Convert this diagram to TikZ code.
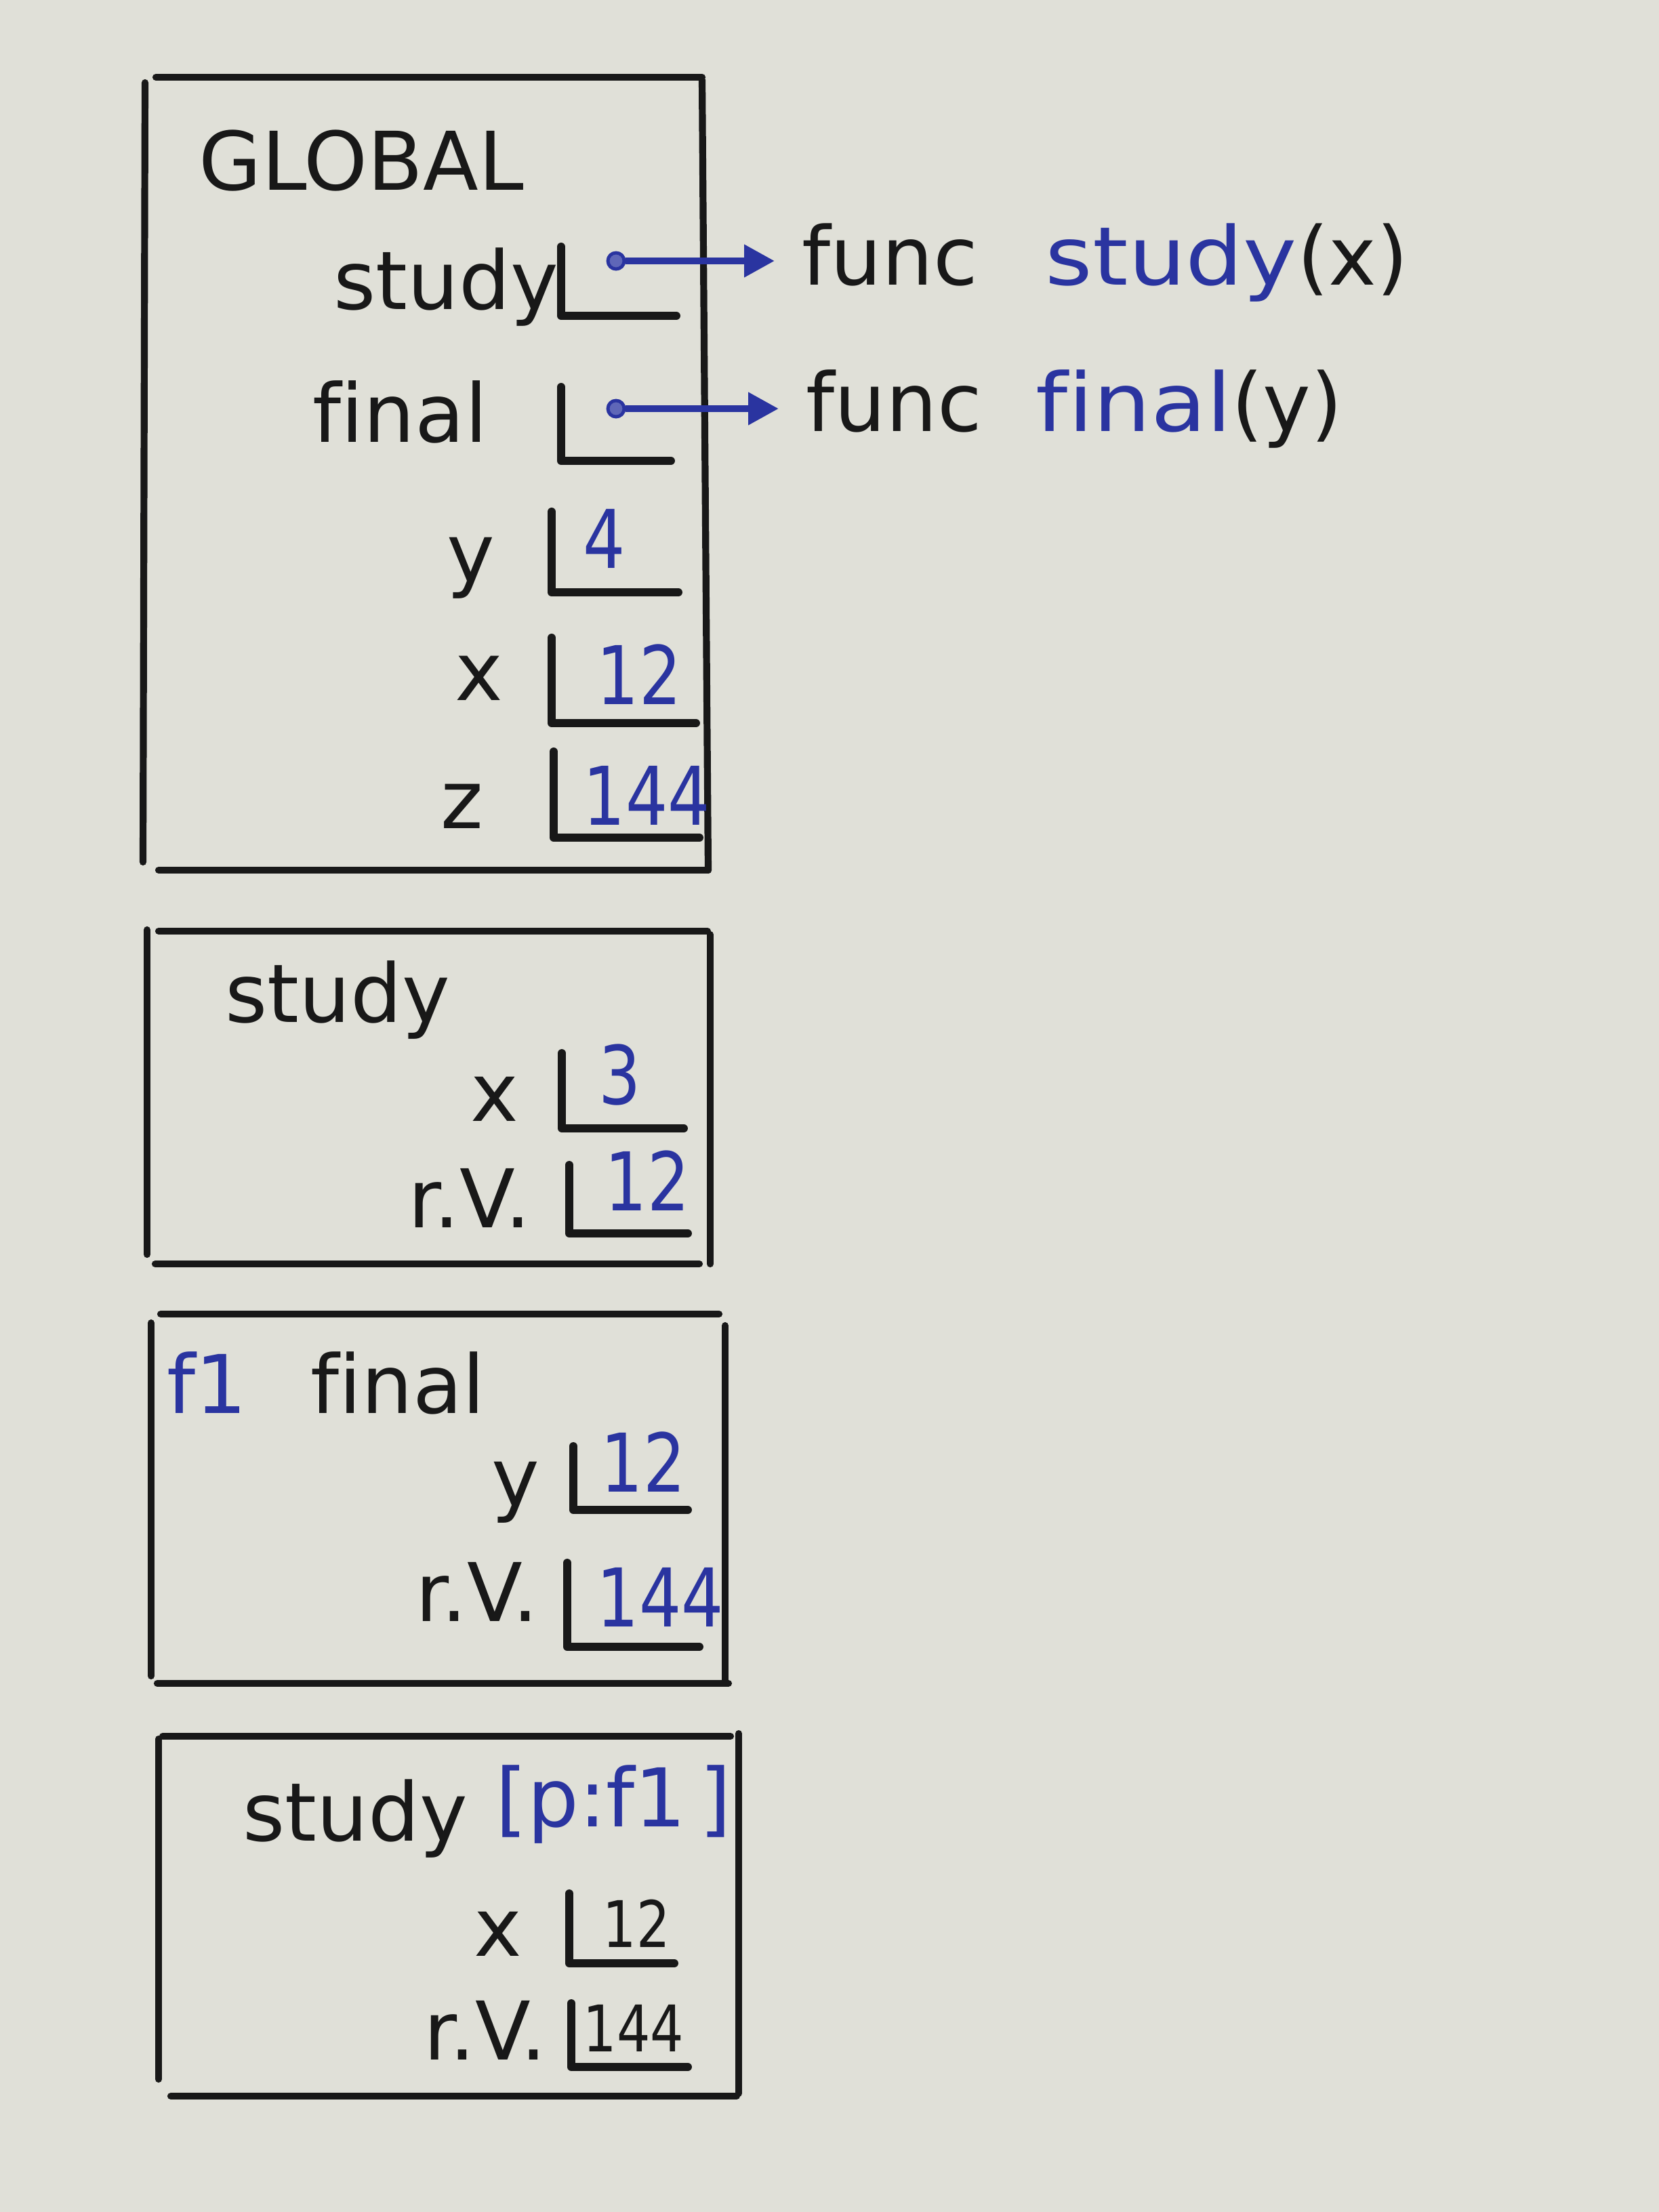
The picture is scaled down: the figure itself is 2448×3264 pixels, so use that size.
\documentclass[tikz,border=0pt]{standalone}
\usepackage{fontspec}
\usetikzlibrary{arrows.meta}
\newfontfamily\handfont[Ligatures=CommonOff]{DejaVu Sans}
\newcommand{\hand}{\handfont\fontsize{34}{40}\selectfont}
\newcommand{\handsmall}{\handfont\fontsize{27}{32}\selectfont}
\newcommand{\nar}[1]{\scalebox{0.82}[1]{#1}}
\newcommand{\wid}[1]{\scalebox{1.12}[1]{#1}}
\definecolor{paper}{RGB}{224,224,216}
\definecolor{ink}{RGB}{24,24,24}
\definecolor{pen}{RGB}{42,52,160}
\tikzset{
  frameline/.style={draw=ink, line width=2.9pt, line cap=round},
  slot/.style={draw=ink, line width=3.4pt, line cap=round, line join=round},
  lbl/.style={inner sep=0pt, anchor=base west, text=ink, font=\hand},
  num/.style={lbl, text=pen},
  knum/.style={lbl, font=\handsmall},
  ptr/.style={draw=pen, line width=3pt, shorten >=4mm, -{Triangle[length=4.5mm,width=4.6mm]}},
  pdot/.style={circle, draw=pen, fill=pen!75, line width=1.4pt, minimum size=2.4mm, inner sep=0pt}
}
\begin{document}
\begin{tikzpicture}[x=0.1mm,y=-0.1mm]
\fill[paper] (0,0) rectangle (2448,3264);
\useasboundingbox (0,0) rectangle (2448,3264);

% ---------- GLOBAL frame ----------
\draw[frameline] (230,114) -- (1036,114);
\draw[frameline] (214,122) -- (211,1272);
\draw[frameline] (1036,118) -- (1045,1284);
\draw[frameline] (234,1284) -- (1045,1284);
\node[lbl] (gname) at (293,280) {GLOBAL};

\node[lbl] (gstudy) at (492,456) {study};
\draw[slot] (828,364) -- (828,466) -- (998,466);
\node[pdot] (d1) at (909,385) {};
\node[lbl] (f1) at (1183,420) {func\hspace{10mm}\textcolor{pen}{\wid{study}}(x)};
\draw[ptr] (d1) -- (d1 -| f1.west);

\node[lbl] (gfinal) at (461,652) {final};
\draw[slot] (828,571) -- (828,680) -- (990,680);
\node[pdot] (d2) at (909,603) {};
\node[lbl] (f2) at (1189,636) {func\hspace{8mm}\textcolor{pen}{\wid{final}}(y)};
\draw[ptr] (d2) -- (d2 -| f2.west);

\node[lbl] (gy) at (659,858) {y};
\draw[slot] (814,755) -- (814,874) -- (1001,874);
\node[num] (gyv) at (860,838) {\nar{4}};

\node[lbl] (gx) at (671,1033) {x};
\draw[slot] (814,941) -- (814,1067) -- (1027,1067);
\node[num] (gxv) at (880,1039) {\nar{12}};

\node[lbl] (gz) at (650,1222) {z};
\draw[slot] (817,1109) -- (817,1236) -- (1032,1236);
\node[num] (gzv) at (860,1217) {\nar{144}};

% ---------- study frame ----------
\draw[frameline] (234,1374) -- (1044,1374);
\draw[frameline] (217,1372) -- (217,1851);
\draw[frameline] (1048,1379) -- (1048,1865);
\draw[frameline] (229,1865) -- (1032,1865);
\node[lbl] (sname) at (332,1508) {study};

\node[lbl] (sx) at (694,1654) {x};
\draw[slot] (829,1554) -- (829,1665) -- (1009,1665);
\node[num] (sxv) at (883,1629) {\nar{3}};

\node[lbl] (srv) at (602,1811) {r.V.};
\draw[slot] (840,1719) -- (840,1820) -- (1015,1820);
\node[num] (srvv) at (892,1786) {\nar{12}};

% ---------- final frame ----------
\draw[frameline] (237,1939) -- (1061,1939);
\draw[frameline] (223,1952) -- (223,2473);
\draw[frameline] (1070,1956) -- (1070,2480);
\draw[frameline] (232,2484) -- (1075,2484);
\node[num] (fid) at (246,2085) {f1};
\node[lbl] (fname) at (458,2085) {final};

\node[lbl] (fy) at (725,2222) {y};
\draw[slot] (846,2134) -- (846,2228) -- (1015,2228);
\node[num] (fyv) at (886,2201) {\nar{12}};

\node[lbl] (frv) at (613,2392) {r.V.};
\draw[slot] (837,2306) -- (837,2430) -- (1032,2430);
\node[num] (frvv) at (880,2400) {\nar{144}};

% ---------- second study frame ----------
\draw[frameline] (240,2562) -- (1078,2562);
\draw[frameline] (234,2566) -- (234,3068);
\draw[frameline] (1090,2558) -- (1090,3089);
\draw[frameline] (252,3093) -- (1087,3093);
\node[lbl] (tname) at (358,2716) {study};
\node[num] (tpar) at (731,2695) {[p:f1\,]};

\node[lbl] (tx) at (699,2886) {x};
\draw[slot] (840,2794) -- (840,2897) -- (995,2897);
\node[knum] (txv) at (889,2873) {\nar{12}};

\node[lbl] (trv) at (625,3039) {r.V.};
\draw[slot] (843,2956) -- (843,3050) -- (1015,3050);
\node[knum] (trvv) at (860,3027) {\nar{144}};
\end{tikzpicture}
\end{document}
